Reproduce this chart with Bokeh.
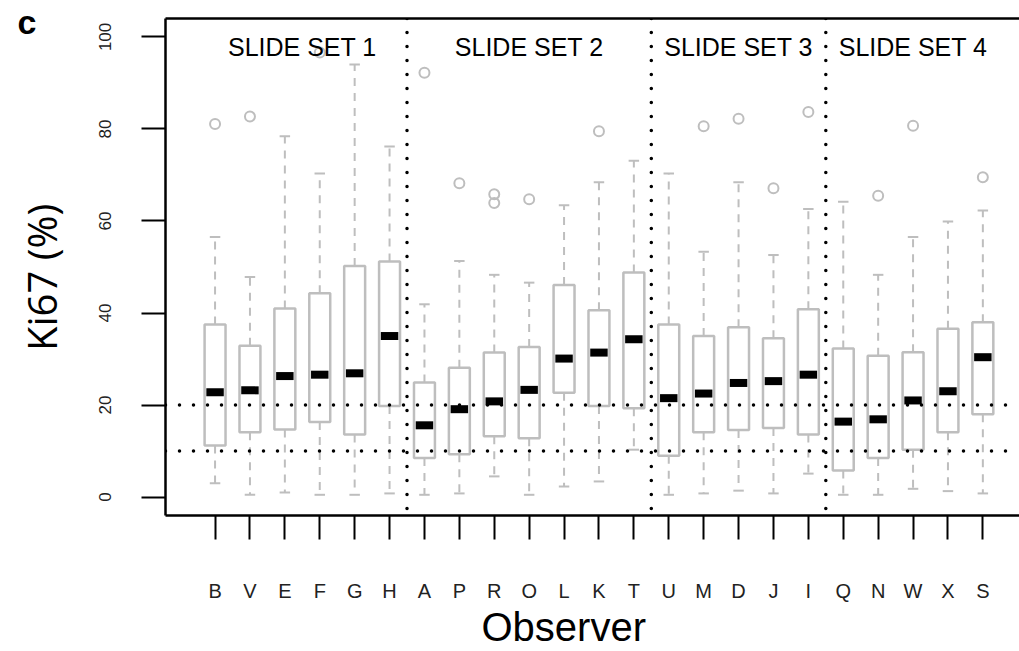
from bokeh.plotting import figure
from bokeh.models import (LinearAxis, FixedTicker, SingleIntervalTicker, Span, Label,
                          ColumnDataSource, Range1d, Title)
from bokeh.embed import file_html
from bokeh.resources import INLINE

# ---------------- data ----------------
observers = ["B", "V", "E", "F", "G", "H",
             "A", "P", "R", "O", "L", "K", "T",
             "U", "M", "D", "J", "I",
             "Q", "N", "W", "X", "S"]
slide_sets = ["SLIDE SET 1", "SLIDE SET 2", "SLIDE SET 3", "SLIDE SET 4"]
set_sizes = [6, 7, 5, 5]

whisker_low = [3.0, 0.5, 1.0, 0.5, 0.5, 0.8,
               0.5, 0.8, 4.5, 0.5, 2.3, 3.4, 10.3,
               0.5, 0.8, 1.4, 0.8, 5.1,
               0.5, 0.5, 1.8, 1.3, 0.8]
q1 = [11.2, 14.1, 14.7, 16.3, 13.6, 19.8,
      8.5, 9.3, 13.2, 12.8, 22.7, 19.8, 19.3,
      9.0, 14.1, 14.6, 15.0, 13.6,
      5.8, 8.5, 10.3, 14.1, 18.0]
median = [22.8, 23.2, 26.3, 26.6, 26.9, 35.0,
          15.6, 19.1, 20.8, 23.3, 30.1, 31.4, 34.3,
          21.5, 22.5, 24.8, 25.2, 26.6,
          16.4, 16.9, 21.0, 23.0, 30.4]
q3 = [37.5, 32.9, 41.0, 44.3, 50.2, 51.2,
      24.9, 28.1, 31.4, 32.6, 46.1, 40.6, 48.8,
      37.5, 35.0, 36.9, 34.5, 40.8,
      32.3, 30.7, 31.5, 36.6, 38.0]
whisker_high = [56.5, 47.8, 78.4, 70.3, 94.0, 76.2,
                41.9, 51.3, 48.3, 46.6, 63.4, 68.4, 73.1,
                70.3, 53.3, 68.4, 52.6, 62.6,
                64.2, 48.3, 56.5, 59.9, 62.3]

outlier_observer = ["B", "V", "F", "A", "P", "R", "R", "O", "K",
                    "M", "D", "J", "I", "N", "W", "S"]
outlier_value = [81.1, 82.7, 96.6, 92.2, 68.2, 65.8, 63.9, 64.7, 79.5,
                 80.6, 82.2, 67.1, 83.7, 65.5, 80.7, 69.5]

reference_levels = [10, 20]

# ---------------- derived positions ----------------
pos = list(range(1, len(observers) + 1))
idx = {o: i + 1 for i, o in enumerate(observers)}
BOXW = 0.6
CAPW = 0.3
MEDW = 0.5

src = ColumnDataSource(dict(
    x=pos, lw=whisker_low, q1=q1, med=median, q3=q3, uw=whisker_high,
    c0=[x - CAPW / 2 for x in pos], c1=[x + CAPW / 2 for x in pos],
    m0=[x - MEDW / 2 for x in pos], m1=[x + MEDW / 2 for x in pos],
))

GRAY = "#BEBEBE"

p = figure(width=1019, height=651,
           x_range=Range1d(-0.42, 24.05), y_range=Range1d(-4, 104),
           output_backend="svg", toolbar_location=None,
           x_axis_location=None, y_axis_location=None,
           min_border_left=165, min_border_right=0,
           min_border_top=18, min_border_bottom=136,
           outline_line_color=None,
           background_fill_color="white", border_fill_color="white")
p.grid.visible = False

# panel letter as the plot title
p.title.text = "c"
p.title.align = "left"
p.title.offset = -148
p.title.vertical_align = "bottom"
p.title.standoff = -44
p.title.text_font = "Liberation Sans"
p.title.text_font_style = "bold"
p.title.text_font_size = "34px"
p.title.text_color = "black"

# axes (their rules form the left, bottom and top sides of the box)
yax = LinearAxis(ticker=SingleIntervalTicker(interval=20, num_minor_ticks=0),
                 axis_line_color="black", axis_line_width=2.5,
                 major_tick_out=24, major_tick_in=0, major_tick_line_width=2,
                 minor_tick_out=0, minor_tick_in=0,
                 major_label_orientation="vertical", major_label_standoff=30,
                 major_label_text_font="Liberation Sans",
                 major_label_text_font_size="17px",
                 major_label_text_color="#222222",
                 axis_label="Ki67 (%)\u00a0\u00a0", axis_label_standoff=28,
                 axis_label_text_font="Open Sans", axis_label_text_font_size="40px",
                 axis_label_text_font_style="normal", axis_label_text_color="black")
p.add_layout(yax, "left")

xax = LinearAxis(ticker=FixedTicker(ticks=pos),
                 major_label_overrides={x: o for x, o in zip(pos, observers)},
                 axis_line_color="black", axis_line_width=2.5,
                 major_tick_out=24, major_tick_in=0, major_tick_line_width=2,
                 minor_tick_out=0, minor_tick_in=0,
                 major_label_standoff=40,
                 major_label_text_font="Liberation Sans",
                 major_label_text_font_size="20px",
                 major_label_text_color="#222222")
p.add_layout(xax, "below")

tax = LinearAxis(ticker=FixedTicker(ticks=[]),
                 axis_line_color="black", axis_line_width=2.5,
                 major_tick_out=0, major_tick_in=0,
                 minor_tick_out=0, minor_tick_in=0,
                 major_label_standoff=0)
p.add_layout(tax, "above")

p.add_layout(Title(text="Observer", align="left", offset=316, vertical_align="top",
                   standoff=0, text_font="Liberation Sans", text_font_size="40px",
                   text_font_style="normal", text_color="black"), "below")

# whiskers
p.segment(x0="x", y0="q3", x1="x", y1="uw", source=src, line_color=GRAY,
          line_width=2, line_dash="8 7")
p.segment(x0="x", y0="q1", x1="x", y1="lw", source=src, line_color=GRAY,
          line_width=2, line_dash="8 7")
p.segment(x0="c0", y0="uw", x1="c1", y1="uw", source=src, line_color=GRAY, line_width=2)
p.segment(x0="c0", y0="lw", x1="c1", y1="lw", source=src, line_color=GRAY, line_width=2)
# boxes
p.vbar(x="x", width=BOXW, bottom="q1", top="q3", source=src,
       fill_color=None, line_color=GRAY, line_width=2.5)
# medians
p.segment(x0="m0", y0="med", x1="m1", y1="med", source=src, line_color="black",
          line_width=8, line_cap="butt")
# outliers
p.scatter(x=[idx[o] for o in outlier_observer], y=outlier_value, marker="circle",
          size=10, fill_color=None, line_color=GRAY, line_width=2)

# reference lines
for lv in reference_levels:
    p.add_layout(Span(location=lv, dimension="width", line_color="black",
                      line_width=3.5, line_dash="0 14", line_cap="round"))
start = 0
for name, n in zip(slide_sets, set_sizes):
    first, last = start + 1, start + n
    if start > 0:
        p.add_layout(Span(location=first - 0.5, dimension="height", line_color="black",
                          line_width=3.5, line_dash="0 14", line_cap="round"))
    p.add_layout(Label(x=(first + last) / 2, y=97.7, text=name,
                       text_align="center", text_baseline="alphabetic",
                       text_font="Liberation Sans", text_font_size="25px",
                       text_color="black"))
    start += n

open("out.html", "w").write(file_html(p, INLINE))
